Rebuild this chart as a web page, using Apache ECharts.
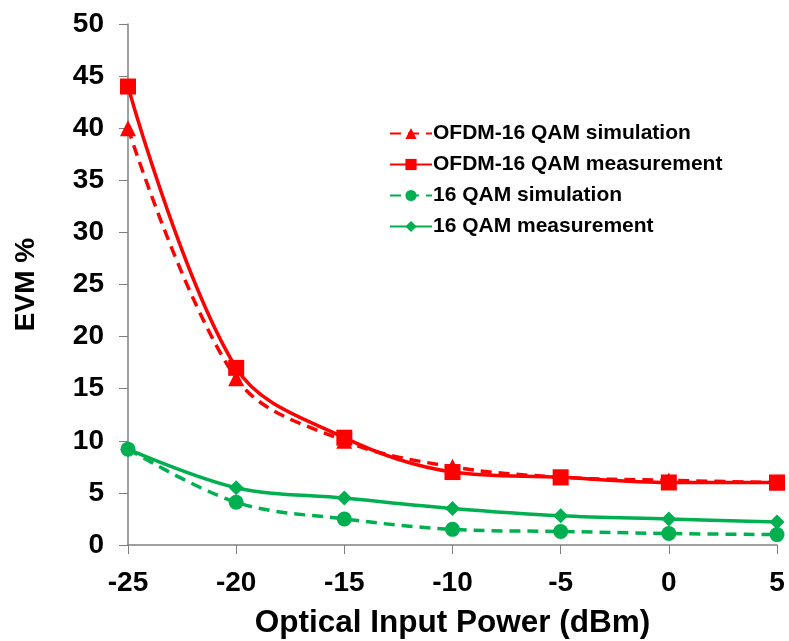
<!DOCTYPE html>
<html><head><meta charset="utf-8">
<script src="https://cdn.jsdelivr.net/npm/echarts@6/dist/echarts.min.js"></script>
<style>html,body{margin:0;padding:0;background:#fff}#c{width:789px;height:641px}</style>
</head><body><div id="c"></div>
<script>
var power = [-25, -20, -15, -10, -5, 0, 5];
var ofdmSim = [40, 16, 10, 7.5, 6.5, 6.2, 6.0];
var ofdmMeas = [44, 17, 10.3, 7.0, 6.5, 6.0, 6.0];
var qamSim = [9.2, 4.1, 2.5, 1.5, 1.3, 1.1, 1.0];
var qamMeas = [9.2, 5.5, 4.5, 3.5, 2.8, 2.5, 2.2];
var names = ['OFDM-16 QAM simulation', 'OFDM-16 QAM measurement', '16 QAM simulation', '16 QAM measurement'];

function pairs(v){ return power.map(function(p,i){ return [p, v[i]]; }); }
var RED = '#ff0000', GREEN = '#00b050';
var font = 'Liberation Sans, Arial, sans-serif';

function mk(name, data, color, dashed, symbol, size){
  return {
    name: name, type: 'line', data: pairs(data), smooth: 0.35,
    symbol: symbol, symbolSize: size,
    lineStyle: {color: color, width: 3.5, type: dashed ? [11,7] : 'solid'},
    itemStyle: {color: color},
    emphasis: {disabled: true}
  };
}

var chart = echarts.init(document.getElementById('c'));
chart.setOption({
  animation: false,
  backgroundColor: '#fff',
  grid: {left: 128, right: 12, top: 24, bottom: 96, containLabel: false, outerBoundsMode: 'none'},
  legend: {
    orient: 'vertical', left: 384, top: 118, itemGap: 10,
    itemWidth: 42, itemHeight: 14,
    textStyle: {fontFamily: font, fontWeight: 'bold', fontSize: 21, color: '#000', padding: [0,0,0,-4]},
    data: names
  },
  xAxis: {
    type: 'value', min: -25, max: 5, interval: 5,
    name: 'Optical Input Power (dBm)', nameLocation: 'middle', nameGap: 62,
    nameTextStyle: {fontFamily: font, fontWeight: 'bold', fontSize: 31.5, color: '#000'},
    axisLine: {onZero: false, lineStyle: {color: '#808080', width: 1.5}},
    axisTick: {show: true, length: 9, lineStyle: {color: '#808080'}},
    axisLabel: {fontFamily: font, fontWeight: 'bold', fontSize: 28, color: '#000', margin: 24},
    splitLine: {show: false}
  },
  yAxis: {
    type: 'value', min: 0, max: 50, interval: 5,
    name: 'EVM %', nameLocation: 'middle', nameGap: 88, nameRotate: 90,
    nameTextStyle: {fontFamily: font, fontWeight: 'bold', fontSize: 28, color: '#000'},
    axisLine: {show: true, onZero: false, lineStyle: {color: '#808080', width: 1.5}},
    axisTick: {show: true, length: 9, lineStyle: {color: '#808080'}},
    axisLabel: {fontFamily: font, fontWeight: 'bold', fontSize: 28, color: '#000', margin: 24},
    splitLine: {show: false}
  },
  series: [
    mk(names[0], ofdmSim, RED, true, 'triangle', 16),
    mk(names[1], ofdmMeas, RED, false, 'rect', 16),
    mk(names[2], qamSim, GREEN, true, 'circle', 15),
    mk(names[3], qamMeas, GREEN, false, 'diamond', 15)
  ]
});
</script></body></html>
